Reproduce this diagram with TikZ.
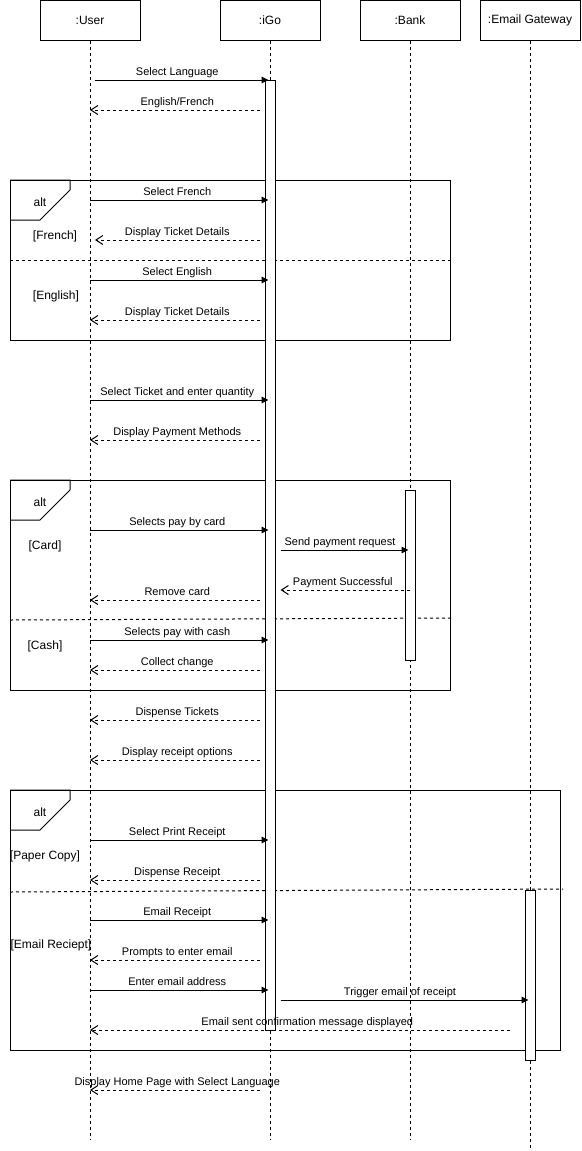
\documentclass[tikz,border=0pt]{standalone}
\usepackage{fontspec}
\setmainfont{Liberation Sans}
\usetikzlibrary{arrows.meta}
\begin{document}
\begin{tikzpicture}[x=1pt,y=-1pt,
  every node/.style={font=\fontsize{11}{13}\selectfont},
  head/.style={draw, line width=1pt, minimum width=100pt, minimum height=40pt,
    inner sep=0pt, font=\fontsize{12}{14}\selectfont},
  life/.style={line width=1pt, dash pattern=on 3pt off 3pt},
  actbar/.style={draw, fill=white, line width=1pt, minimum width=10pt, inner sep=0pt},
  call/.style={line width=1pt, shorten >=-4pt, -{Triangle[length=7pt,width=6.5pt]}},
  ret/.style={line width=1pt, dash pattern=on 3pt off 3pt,
    -{Straight Barb[length=7pt,width=9pt,line width=1pt]}},
  lbl/.style={midway, anchor=base, inner sep=0pt, yshift=5pt},
  frame/.style={draw, line width=1pt},
  sep/.style={line width=1pt, dash pattern=on 3pt off 3pt},
  guard/.style={font=\fontsize{12}{14}\selectfont, inner sep=0pt},
]
\useasboundingbox (0,0) rectangle (581,1151);

% participants
\node[head] (user)  at (90,20)  {:User};
\node[head] (igo)   at (270,20) {:iGo};
\node[head] (bank)  at (410,20) {:Bank};
\node[head] (email) at (530,20) {:Email Gateway};

% lifelines
\coordinate (userend)  at (90,1140);
\coordinate (igoend)   at (270,1140);
\coordinate (bankend)  at (410,1140);
\coordinate (emailend) at (530,1150);
\draw[life] (user.south)  -- (userend);
\draw[life] (igo.south)   -- (igoend);
\draw[life] (bank.south)  -- (bankend);
\draw[life] (email.south) -- (emailend);

% combined fragments
\draw[frame] (10,180) rectangle (450,340);
\draw[frame] (10,180) -- (70,180) -- (70,190) -- (40,220) -- (10,220);
\node[guard] (alt1) at (40,202) {alt};
\draw[sep] (10,260) -- (453,260);
\node[guard] (gfr) at (55,236) {[French]};
\node[guard] (gen) at (56,296) {[English]};

\draw[frame] (10,480) rectangle (450,690);
\draw[frame] (10,480) -- (70,480) -- (70,490) -- (40,520) -- (10,520);
\node[guard] (alt2) at (40,502) {alt};
\draw[sep] (10,620) -- (453,618);
\node[guard] (gcard) at (45,546) {[Card]};
\node[guard] (gcash) at (45,646) {[Cash]};

\draw[frame] (10,790) rectangle (560,1050);
\draw[frame] (10,790) -- (70,790) -- (70,800) -- (40,830) -- (10,830);
\node[guard] (alt3) at (40,812) {alt};
\draw[sep] (10,892) -- (563,889);
\node[guard] (gpaper) at (45,856) {[Paper Copy]};
\node[guard] (gmail)  at (51,945) {[Email Reciept]};

% activation bars
\node[actbar, minimum height=950pt] (igoact)   at (270,555) {};
\node[actbar, minimum height=170pt] (bankact)  at (410,575) {};
\node[actbar, minimum height=170pt] (emailact) at (530,975) {};

% messages
\draw[call, shorten <=5pt] (user.south |- 0,80) -- (igoact.west |- 0,80)
  node[lbl] {Select Language};
\draw[ret, shorten <=5pt] (igoact.west |- 0,110) -- (user.south |- 0,110)
  node[lbl] {English/French};

\draw[call] (user.south |- 0,200) -- (igoact.west |- 0,200)
  node[lbl] {Select French};
\draw[ret, shorten <=5pt, shorten >=5pt] (igoact.west |- 0,240) -- (user.south |- 0,240)
  node[lbl] {Display Ticket Details};
\draw[call] (user.south |- 0,280) -- (igoact.west |- 0,280)
  node[lbl] {Select English};
\draw[ret, shorten <=5pt] (igoact.west |- 0,320) -- (user.south |- 0,320)
  node[lbl] {Display Ticket Details};

\draw[call] (user.south |- 0,400) -- (igoact.west |- 0,400)
  node[lbl] {Select Ticket and enter quantity};
\draw[ret, shorten <=5pt] (igoact.west |- 0,440) -- (user.south |- 0,440)
  node[lbl] {Display Payment Methods};

\draw[call] (user.south |- 0,530) -- (igoact.west |- 0,530)
  node[lbl] {Selects pay by card};
\draw[call, shorten <=5pt] (igoact.east |- 0,550) -- (bankact.west |- 0,550)
  node[lbl] {Send payment request};
\draw[ret, shorten >=5pt] (bank.south |- 0,590) -- (igoact.east |- 0,590)
  node[lbl] {Payment Successful};
\draw[ret, shorten <=5pt] (igoact.west |- 0,600) -- (user.south |- 0,600)
  node[lbl] {Remove card};
\draw[call] (user.south |- 0,640) -- (igoact.west |- 0,640)
  node[lbl] {Selects pay with cash};
\draw[ret, shorten <=5pt] (igoact.west |- 0,670) -- (user.south |- 0,670)
  node[lbl] {Collect change};

\draw[ret, shorten <=5pt] (igoact.west |- 0,720) -- (user.south |- 0,720)
  node[lbl] {Dispense Tickets};
\draw[ret, shorten <=5pt] (igoact.west |- 0,760) -- (user.south |- 0,760)
  node[lbl] {Display receipt options};

\draw[call] (user.south |- 0,840) -- (igoact.west |- 0,840)
  node[lbl] {Select Print Receipt};
\draw[ret, shorten <=5pt] (igoact.west |- 0,880) -- (user.south |- 0,880)
  node[lbl] {Dispense Receipt};
\draw[call] (user.south |- 0,920) -- (igoact.west |- 0,920)
  node[lbl] {Email Receipt};
\draw[ret, shorten <=5pt] (igoact.west |- 0,960) -- (user.south |- 0,960)
  node[lbl] {Prompts to enter email};
\draw[call] (user.south |- 0,990) -- (igoact.west |- 0,990)
  node[lbl] {Enter email address};
\draw[call, shorten <=5pt] (igoact.east |- 0,1000) -- (emailact.west |- 0,1000)
  node[lbl] {Trigger email of receipt};
\draw[ret, shorten <=15pt] (emailact.west |- 0,1030) -- (user.south |- 0,1030)
  node[lbl] {Email sent confirmation message displayed};

\draw[ret, shorten <=5pt] (igoact.west |- 0,1090) -- (user.south |- 0,1090)
  node[lbl] {Display Home Page with Select Language};
\end{tikzpicture}
\end{document}
